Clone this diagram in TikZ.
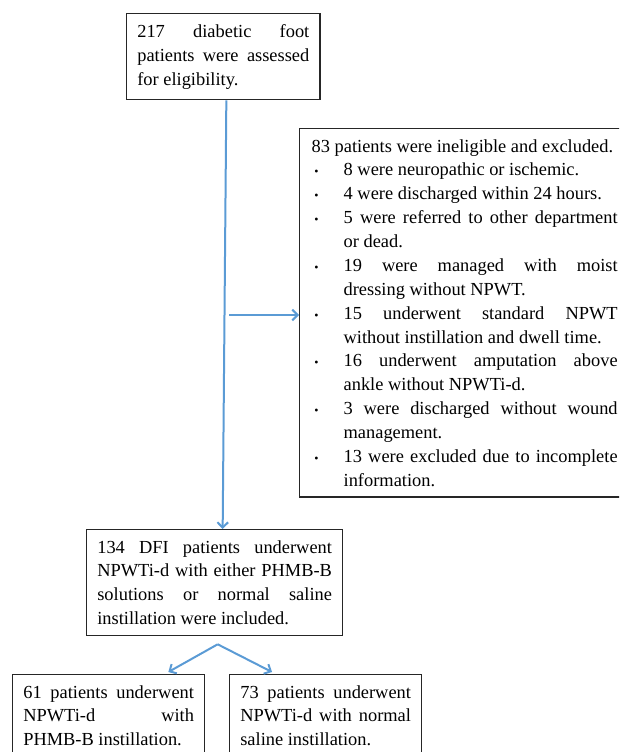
\documentclass[tikz,border=0pt]{standalone}
\usepackage{fontspec}
\setmainfont{Liberation Serif}
\usepackage{tikz}
\usetikzlibrary{
    arrows.meta,
    calc,
    positioning,
}
\definecolor{flowBlue}{HTML}{5B9BD5}
\hyphenpenalty=10000
\tolerance=10000
\hbadness=10000
\setlength{\parindent}{0pt}

\newcommand{\exclItem}{\par\hangindent=24pt\hangafter=1\noindent
    \hbox to 24pt{\hskip2pt{\small\textbullet}\hfil}}

\begin{document}
\begin{tikzpicture}[x=0.75pt,y=-0.75pt,>={Straight Barb[length=4pt,width=8pt]}]

                \tikzstyle{commonNode}=[font={\fontsize{13.8pt}{17.9pt}\selectfont}, align=justify, line width=1pt, draw=black!85]
                \tikzstyle{stage}=[commonNode, rectangle, anchor=north west, inner xsep=8pt, inner ysep=8pt]
                \tikzstyle{flow}=[->, line width=1.5pt, draw=flowBlue]

                \useasboundingbox (0,0) rectangle (619,752);
                \clip (0,0) rectangle (619,752);

                \begin{scope}

                    % Screening and exclusion
                    \node at (126,13) [stage, text width=129pt] (assessed) {\noindent 217 diabetic foot\linebreak patients were assessed\linebreak for eligibility.};
                    \node at (299,128) [stage, text width=229.5pt, inner xsep=9pt] (excluded) {\noindent 83 patients were ineligible and excluded.
                        \exclItem 8 were neuropathic or ischemic.
                        \exclItem 4 were discharged within 24 hours.
                        \exclItem 5 were referred to other department\linebreak or dead.
                        \exclItem 19 were managed with moist\linebreak dressing without NPWT.
                        \exclItem 15 underwent standard NPWT\linebreak without instillation and dwell time.
                        \exclItem 16 underwent amputation above\linebreak ankle without NPWTi-d.
                        \exclItem 3 were discharged without wound\linebreak management.
                        \exclItem 13 were excluded due to incomplete\linebreak information.\par};

                    % Included and groups
                    \node at (86,529) [stage, text width=176pt] (included) {\noindent 134 DFI patients underwent\linebreak NPWTi-d with either PHMB-B\linebreak solutions or normal saline\linebreak instillation were included.};
                    \node at (12,674) [stage, text width=128pt] (phmb) {\noindent 61 patients underwent\linebreak NPWTi-d with\linebreak PHMB-B instillation.};
                    \node at (229,674) [stage, text width=128pt] (saline) {\noindent 73 patients underwent\linebreak NPWTi-d with normal\linebreak saline instillation.};

                    % Connectors
                    \coordinate (branch) at (229,315);
                    \coordinate (split) at ($(included.south)+(3,8)$);
                    \draw [flow] ($(assessed.south)+(3,0)$) -- ($(included.north)+(8,0)$);
                    \draw [flow] (branch) -- (branch -| excluded.west);
                    \draw [flow] (split) -- ($(phmb.north east)+(-37,-2)$);
                    \draw [flow] (split) -- ($(saline.north west)+(43,-2)$);
                \end{scope}
            \end{tikzpicture}
\end{document}
